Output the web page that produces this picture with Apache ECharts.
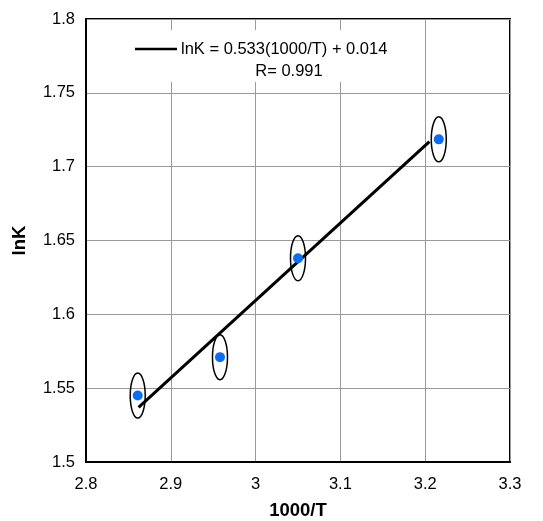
<!DOCTYPE html>
<html>
<head>
<meta charset="utf-8">
<script src="https://cdn.jsdelivr.net/npm/echarts@6/dist/echarts.min.js"></script>
<style>html,body{margin:0;padding:0;background:#fff;}#c{width:543px;height:521px;}</style>
</head>
<body>
<div id="c"></div>
<script>
// Data
var invT = [2.861, 2.958, 3.050, 3.216];
var lnK = [1.545, 1.571, 1.638, 1.7185];
var fitX = [2.862, 3.205];
var fitY = [1.537, 1.717];
var xTicks = [2.8, 2.9, 3, 3.1, 3.2, 3.3];
var yTicks = [1.5, 1.55, 1.6, 1.65, 1.7, 1.75, 1.8];
var legendLine1 = 'lnK = 0.533(1000/T) + 0.014';
var legendLine2 = 'R= 0.991';

var pts = invT.map(function (x, i) { return [x, lnK[i]]; });
var fit = fitX.map(function (x, i) { return [x, fitY[i]]; });
var font = 'Liberation Sans, Arial, sans-serif';

var chart = echarts.init(document.getElementById('c'), null, { renderer: 'canvas' });
chart.setOption({
  animation: false,
  backgroundColor: '#fff',
  grid: { left: 86, top: 19, right: 33, bottom: 59, outerBoundsMode: 'none', containLabel: false,
    show: true, borderColor: '#000', borderWidth: 2, backgroundColor: 'transparent' },
  xAxis: {
    type: 'value', min: xTicks[0], max: xTicks[xTicks.length - 1], interval: 0.1,
    name: '1000/T', nameLocation: 'middle', nameGap: 39,
    nameTextStyle: { fontFamily: font, fontSize: 18.5, fontWeight: 'bold', color: '#000' },
    axisLine: { show: true, lineStyle: { color: '#000', width: 2 } },
    axisTick: { show: false },
    axisLabel: { fontFamily: font, fontSize: 16.5, color: '#000', margin: 14,
      formatter: function (v) { return String(parseFloat(v.toFixed(2))); } },
    splitLine: { show: true, lineStyle: { color: '#999', width: 1 } }
  },
  yAxis: {
    type: 'value', min: yTicks[0], max: yTicks[yTicks.length - 1], interval: 0.05,
    name: 'lnK', nameLocation: 'middle', nameGap: 57, nameRotate: 90,
    nameTextStyle: { fontFamily: font, fontSize: 18.5, fontWeight: 'bold', color: '#000' },
    axisLine: { show: true, lineStyle: { color: '#000', width: 2 } },
    axisTick: { show: false },
    axisLabel: { fontFamily: font, fontSize: 16.5, color: '#000', margin: 11,
      formatter: function (v) { return String(parseFloat(v.toFixed(2))); } },
    splitLine: { show: true, lineStyle: { color: '#999', width: 1 } }
  },
  graphic: [
    { type: 'rect', z: 100, shape: { x: 128, y: 30, width: 268, height: 52 }, style: { fill: '#fff' } },
    { type: 'line', z: 101, shape: { x1: 135, y1: 49, x2: 177, y2: 49 }, style: { stroke: '#000', lineWidth: 2.5 } },
    { type: 'text', z: 101, x: 181, y: 49, style: { text: legendLine1, font: '16.5px ' + font, fill: '#000', verticalAlign: 'middle' } },
    { type: 'text', z: 101, x: 289, y: 71, style: { text: legendLine2, font: '16.5px ' + font, fill: '#000', align: 'center', verticalAlign: 'middle' } }
  ],
  series: [
    { type: 'custom', data: pts, z: 2,
      renderItem: function (params, api) {
        var p = api.coord([api.value(0), api.value(1)]);
        return { type: 'ellipse', shape: { cx: p[0], cy: p[1], rx: 7.5, ry: 22.5 },
          style: { fill: 'none', stroke: '#000', lineWidth: 1.5 } };
      } },
    { type: 'line', data: fit, symbol: 'none', z: 3, lineStyle: { color: '#000', width: 3 } },
    { type: 'scatter', data: pts, symbol: 'circle', symbolSize: 10, z: 4,
      itemStyle: { color: '#0a6ef5', opacity: 1 } }
  ]
});
</script>
</body>
</html>
